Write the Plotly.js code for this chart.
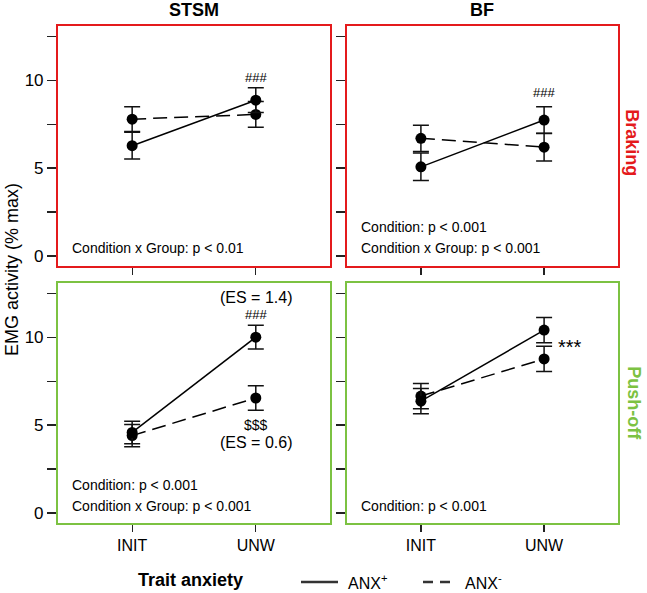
<!DOCTYPE html>
<html>
<head>
<meta charset="utf-8">
<script src="https://cdn.plot.ly/plotly-3.0.1.min.js"></script>
<style>
  html, body { margin: 0; padding: 0; background: #fff; }
  #chart { width: 647px; height: 593px; }
</style>
</head>
<body>
<div id="chart"></div>
<script>
// conditions on the x axis
const conditions = ['INIT', 'UNW'];

// EMG activity (% max), mean and error per group
const stsmBrakingPos = [6.27, 8.86];
const stsmBrakingPosErr = [0.76, 0.70];
const stsmBrakingNeg = [7.78, 8.05];
const stsmBrakingNegErr = [0.70, 0.73];

const bfBrakingPos = [5.07, 7.73];
const bfBrakingPosErr = [0.78, 0.76];
const bfBrakingNeg = [6.69, 6.19];
const bfBrakingNegErr = [0.75, 0.79];

const stsmPushPos = [4.58, 10.0];
const stsmPushPosErr = [0.64, 0.68];
const stsmPushNeg = [4.40, 6.54];
const stsmPushNegErr = [0.63, 0.69];

const bfPushPos = [6.36, 10.4];
const bfPushPosErr = [0.72, 0.72];
const bfPushNeg = [6.65, 8.76];
const bfPushNegErr = [0.72, 0.72];

const yTickVals = [0, 5, 10];
const yMinorVals = [2.5, 7.5, 12.5];

const RED = '#e41a1c';
const GREEN = '#7cc242';
const FONT = 'Liberation Sans, Arial, sans-serif';

function makeTrace(y, err, dash, axis) {
    return {
        x: conditions,
        y: y,
        xaxis: 'x' + axis,
        yaxis: 'y' + axis,
        type: 'scatter',
        mode: 'lines+markers',
        line: { color: '#000', width: 1.5, dash: dash },
        marker: { color: '#000', size: 11 },
        error_y: { type: 'data', array: err, width: 8, thickness: 1.5, color: '#111' },
        showlegend: false,
        hoverinfo: 'y'
    };
}

const DASH = '14px,7px';
const traces = [
    makeTrace(stsmBrakingNeg, stsmBrakingNegErr, DASH, ''),
    makeTrace(stsmBrakingPos, stsmBrakingPosErr, 'solid', ''),
    makeTrace(bfBrakingNeg, bfBrakingNegErr, DASH, '2'),
    makeTrace(bfBrakingPos, bfBrakingPosErr, 'solid', '2'),
    makeTrace(stsmPushNeg, stsmPushNegErr, DASH, '3'),
    makeTrace(stsmPushPos, stsmPushPosErr, 'solid', '3'),
    makeTrace(bfPushNeg, bfPushNegErr, DASH, '4'),
    makeTrace(bfPushPos, bfPushPosErr, 'solid', '4')
];

function xAxis(domain, anchor, color, labels) {
    return {
        domain: domain,
        anchor: anchor,
        type: 'category',
        range: [-0.6, 1.6],
        showgrid: false, zeroline: false,
        showline: true, mirror: true, linecolor: color, linewidth: 2,
        ticks: 'outside', ticklen: 7, tickwidth: 1.2, tickcolor: '#222',
        showticklabels: labels,
        tickfont: { family: FONT, size: 16, color: '#000' },
        automargin: false,
        fixedrange: true
    };
}

function yAxis(domain, anchor, color, labels) {
    return {
        domain: domain,
        anchor: anchor,
        range: [-0.57, 13.08],
        showgrid: false, zeroline: false,
        showline: true, mirror: true, linecolor: color, linewidth: 2,
        ticks: 'outside', ticklen: 9, tickwidth: 1.2, tickcolor: '#222',
        tickmode: 'array', tickvals: yTickVals,
        minor: { tickmode: 'array', tickvals: yMinorVals, ticks: 'outside', ticklen: 9, tickwidth: 1.2, tickcolor: '#222', showgrid: false },
        showticklabels: labels,
        tickfont: { family: FONT, size: 17, color: '#000' },
        automargin: false,
        fixedrange: true
    };
}

const LEFT = [0.0896, 0.5100];
const RIGHT = [0.5363, 0.9552];
const TOP = [0.5514, 0.9562];
const BOTTOM = [0.1180, 0.5228];

function note(text, x, y, axis, size, anchor) {
    return {
        text: text, x: x, y: y,
        xref: 'x' + axis, yref: 'y' + axis,
        xanchor: anchor || 'center', yanchor: 'middle',
        showarrow: false,
        font: { family: FONT, size: size, color: '#000' }
    };
}

function paperText(text, x, y, size, color, bold, angle) {
    return {
        text: bold ? '<b>' + text + '</b>' : text,
        x: x, y: y, xref: 'paper', yref: 'paper',
        xanchor: 'center', yanchor: 'middle',
        textangle: angle || 0,
        showarrow: false,
        font: { family: FONT, size: size, color: color }
    };
}

const annotations = [
    // panel headers
    paperText('STSM', 0.300, 0.983, 18, '#000', true),
    paperText('BF', 0.745, 0.983, 18, '#000', true),
    paperText('Braking', 0.977, 0.760, 18, RED, true, 90),
    paperText('Push-off', 0.980, 0.320, 18, GREEN, true, 90),
    paperText('EMG activity (% max)', 0.019, 0.545, 18, '#000', false, -90),
    paperText('Trait anxiety', 0.294, 0.022, 18, '#000', true),

    // STSM braking
    note('###', 1, 10.17, '', 13),
    note('Condition x Group: p &lt; 0.01', -0.5, 0.45, '', 14, 'left'),

    // BF braking
    note('###', 1, 9.32, '2', 13),
    note('Condition: p &lt; 0.001', -0.5, 1.65, '2', 14, 'left'),
    note('Condition x Group: p &lt; 0.001', -0.5, 0.45, '2', 14, 'left'),

    // STSM push-off
    note('(ES = 1.4)', 1, 12.26, '3', 16),
    note('###', 1, 11.3, '3', 13),
    note('$$$', 1, 5.03, '3', 14),
    note('(ES = 0.6)', 1, 4.0, '3', 16),
    note('Condition: p &lt; 0.001', -0.5, 1.61, '3', 14, 'left'),
    note('Condition x Group: p &lt; 0.001', -0.5, 0.42, '3', 14, 'left'),

    // BF push-off
    note('***', 1.21, 9.45, '4', 20),
    note('Condition: p &lt; 0.001', -0.5, 0.42, '4', 14, 'left'),

    // legend labels
    {
        text: 'ANX<sup>+</sup>', x: 346 / 647, y: 1 - 582 / 593,
        xref: 'paper', yref: 'paper', xanchor: 'left', yanchor: 'middle',
        showarrow: false, font: { family: FONT, size: 16, color: '#000' }
    },
    {
        text: 'ANX<sup>-</sup>', x: 463 / 647, y: 1 - 582 / 593,
        xref: 'paper', yref: 'paper', xanchor: 'left', yanchor: 'middle',
        showarrow: false, font: { family: FONT, size: 16, color: '#000' }
    }
];

// legend key lines
const shapes = [
    {
        type: 'line', xref: 'paper', yref: 'paper',
        x0: 301 / 647, x1: 338 / 647, y0: 1 - 582 / 593, y1: 1 - 582 / 593,
        line: { color: '#333', width: 2.5 }
    },
    {
        type: 'line', xref: 'paper', yref: 'paper',
        x0: 423 / 647, x1: 456 / 647, y0: 1 - 582 / 593, y1: 1 - 582 / 593,
        line: { color: '#333', width: 2.5, dash: '10px,7px' }
    }
];

const layout = {
    width: 647,
    height: 593,
    margin: { l: 0, r: 0, t: 0, b: 0 },
    paper_bgcolor: '#fff',
    plot_bgcolor: '#fff',
    font: { family: FONT, color: '#000' },
    showlegend: false,
    xaxis: xAxis(LEFT, 'y', RED, false),
    yaxis: yAxis(TOP, 'x', RED, true),
    xaxis2: xAxis(RIGHT, 'y2', RED, false),
    yaxis2: yAxis(TOP, 'x2', RED, false),
    xaxis3: xAxis(LEFT, 'y3', GREEN, true),
    yaxis3: yAxis(BOTTOM, 'x3', GREEN, true),
    xaxis4: xAxis(RIGHT, 'y4', GREEN, true),
    yaxis4: yAxis(BOTTOM, 'x4', GREEN, false),
    annotations: annotations,
    shapes: shapes
};

Plotly.newPlot('chart', traces, layout, { displayModeBar: false, staticPlot: true });
</script>
</body>
</html>
